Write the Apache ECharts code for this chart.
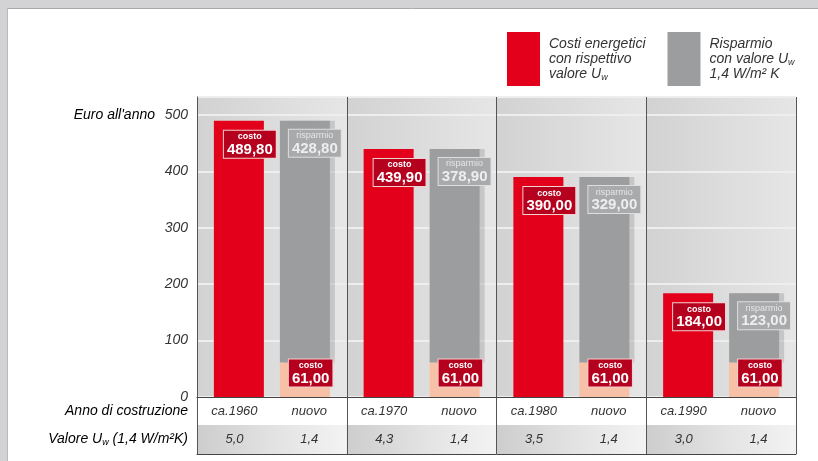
<!DOCTYPE html>
<html>
<head>
<meta charset="utf-8">
<script src="https://cdn.jsdelivr.net/npm/echarts@6/dist/echarts.min.js"></script>
<style>html,body{margin:0;padding:0;background:#fff}#c{width:818px;height:461px}</style>
</head>
<body>
<div id="c"></div>
<script>
const groups = ['ca.1960', 'ca.1970', 'ca.1980', 'ca.1990'];
const yearLabels = ['ca.1960', 'nuovo', 'ca.1970', 'nuovo', 'ca.1980', 'nuovo', 'ca.1990', 'nuovo'];
const uwLabels = ['5,0', '1,4', '4,3', '1,4', '3,5', '1,4', '3,0', '1,4'];
const costOld = [489.80, 439.90, 390.00, 184.00];
const costNew = [61.00, 61.00, 61.00, 61.00];
const savings = [428.80, 378.90, 329.00, 123.00];
const yMin = 0, yMax = 532, yStep = 100;

const FONT = "'Liberation Sans', Arial, sans-serif";
const fmt = v => v.toFixed(2).replace('.', ',');
const chart = echarts.init(document.getElementById('c'), null, {renderer: 'canvas'});

const redBox = {
  backgroundColor: '#b5001e', borderColor: '#f3d0d0', borderWidth: 1, padding: [1, 3, 0, 3],
  rich: {
    a: {fontFamily: FONT, fontSize: 9, fontWeight: 'bold', color: '#fff', lineHeight: 10, align: 'center'},
    b: {fontFamily: FONT, fontSize: 15, fontWeight: 'bold', color: '#fff', lineHeight: 16, align: 'center'}
  }
};
const grayBox = {
  backgroundColor: '#a9aaac', borderColor: '#dedede', borderWidth: 1, padding: [1, 3, 0, 3],
  rich: {
    a: {fontFamily: FONT, fontSize: 9, color: '#e6e6e6', lineHeight: 10, align: 'center'},
    b: {fontFamily: FONT, fontSize: 15, fontWeight: 'bold', color: '#eeeeee', lineHeight: 16, align: 'center'}
  }
};
const groupGrad = {type: 'linear', x: 0, y: 0, x2: 1, y2: 0,
  colorStops: [{offset: 0, color: '#d2d2d2'}, {offset: 1, color: '#e6e6e6'}]};
const rowGrad = {type: 'linear', x: 0, y: 0, x2: 1, y2: 0,
  colorStops: [{offset: 0, color: '#cdcdcd'}, {offset: 0.5, color: '#e2e2e2'}, {offset: 1, color: '#f3f3f3'}]};
const txt = {fontFamily: FONT, fontSize: 14, fontStyle: 'italic', color: '#333'};

const option = {
  animation: false,
  backgroundColor: '#ffffff',
  legend: {
    left: 502, top: 27, itemWidth: 33, itemHeight: 54, itemGap: 22, icon: 'rect',
    selectedMode: false,
    data: ['Costi', 'Risparmio'],
    itemStyle: {shadowColor: 'transparent', shadowOffsetX: 0},
    textStyle: {padding: [0, 0, 0, 4],
      rich: {
        t: Object.assign({}, txt, {lineHeight: 15}),
        s: Object.assign({}, txt, {fontSize: 9, lineHeight: 15, verticalAlign: 'bottom'})
      }},
    formatter: n => n === 'Costi'
      ? '{t|Costi energetici}\n{t|con rispettivo}\n{t|valore U}{s|w}'
      : '{t|Risparmio}\n{t|con valore U}{s|w}\n{t|1,4 W/m² K}'
  },
  grid: [
    {left: 197, right: 22, top: 97, height: 300},
    {left: 197, right: 22, top: 425, height: 29},
    {left: 197, right: 22, top: 397, height: 57}
  ],
  xAxis: [
    {gridIndex: 0, type: 'category', data: groups, z: 2,
      axisLine: {show: true, lineStyle: {color: '#444', width: 1}}, axisTick: {show: false}, axisLabel: {show: false},
      splitLine: {show: true, lineStyle: {color: '#555', width: 1}}},
    {gridIndex: 0, type: 'category', data: groups, z: 0,
      axisLine: {show: false}, axisTick: {show: false}, axisLabel: {show: false},
      splitArea: {show: true, areaStyle: {color: [groupGrad]}}},
    {gridIndex: 0, type: 'category', data: yearLabels, position: 'bottom', z: 3,
      axisLine: {show: false}, axisTick: {show: false},
      axisLabel: {show: true, margin: 0, interval: 0,
        formatter: (v, i) => '{y|' + v + '}\n{u|' + uwLabels[i] + '}',
        rich: {y: Object.assign({}, txt, {fontSize: 13, lineHeight: 28}), u: Object.assign({}, txt, {fontSize: 13, lineHeight: 28})}}},
    {gridIndex: 1, type: 'category', data: groups, z: 0,
      axisLine: {show: false}, axisTick: {show: false}, axisLabel: {show: false},
      splitArea: {show: true, areaStyle: {color: [rowGrad]}}},
    {gridIndex: 2, type: 'category', data: groups, z: 2,
      axisLine: {show: true, lineStyle: {color: '#444', width: 1}}, axisTick: {show: false}, axisLabel: {show: false},
      splitLine: {show: true, lineStyle: {color: '#555', width: 1}}}
  ],
  yAxis: [
    {gridIndex: 0, type: 'value', min: yMin, max: yMax, interval: yStep, z: 1,
      axisLine: {show: true, lineStyle: {color: '#444'}}, axisTick: {show: false},
      axisLabel: Object.assign({}, txt, {margin: 9, formatter: v => (v % 100 === 0 ? String(v) : '')}),
      splitLine: {show: true, lineStyle: {color: '#eeeeee', width: 2}}},
    {gridIndex: 1, type: 'value', show: false},
    {gridIndex: 2, type: 'value', show: false}
  ],
  series: [
    {name: 'Costi', type: 'bar', xAxisIndex: 0, yAxisIndex: 0, data: costOld,
      barWidth: 50, barGap: '32%', itemStyle: {color: '#e3001b'},
      label: Object.assign({show: true, position: [10, 10],
        formatter: p => '{a|costo}\n{b|' + fmt(p.value) + '}'}, redBox)},
    {name: 'Costo nuovo', type: 'bar', xAxisIndex: 0, yAxisIndex: 0, stack: 'nuovo', data: costNew,
      barWidth: 50, barGap: '32%', itemStyle: {color: '#f6c1a6'},
      label: Object.assign({show: true, position: [9, -3],
        formatter: p => '{a|costo}\n{b|' + fmt(p.value) + '}'}, redBox)},
    {name: 'Risparmio', type: 'bar', xAxisIndex: 0, yAxisIndex: 0, stack: 'nuovo', data: savings,
      barWidth: 50, barGap: '32%',
      itemStyle: {color: '#9c9d9f', shadowColor: 'rgba(0,0,0,0.13)', shadowOffsetX: 5, shadowOffsetY: 0, shadowBlur: 0},
      label: Object.assign({show: true, position: [9, 9],
        formatter: p => '{a|risparmio}\n{b|' + fmt(p.value) + '}'}, grayBox)}
  ],
  graphic: [
    {type: 'rect', shape: {x: 0, y: 0, width: 818, height: 8}, style: {fill: '#d3d3d5'}, z: -10},
    {type: 'line', shape: {x1: 7, y1: 8.5, x2: 818, y2: 8.5}, style: {stroke: '#a9a9ab', lineWidth: 1}, z: -9},
    {type: 'rect', shape: {x: 0, y: 0, width: 7, height: 461}, style: {fill: '#d3d3d5'}, z: -10},
    {type: 'line', shape: {x1: 7.5, y1: 8, x2: 7.5, y2: 461}, style: {stroke: '#b9b9bb', lineWidth: 1}, z: -9},
    {type: 'text', x: 155, y: 115, style: Object.assign({text: "Euro all'anno", align: 'right', verticalAlign: 'middle'}, txt)},
    {type: 'text', x: 188, y: 411, style: Object.assign({text: 'Anno di costruzione', align: 'right', verticalAlign: 'middle'}, txt)},
    {type: 'text', x: 188, y: 439, style: {text: '{t|Valore U}{s|w}{t| (1,4 W/m²K)}', align: 'right', verticalAlign: 'middle',
      rich: {t: Object.assign({}, txt, {lineHeight: 16}), s: Object.assign({}, txt, {fontSize: 9, lineHeight: 16, verticalAlign: 'bottom'})}}}
  ]
};
chart.setOption(option);
</script>
</body>
</html>
